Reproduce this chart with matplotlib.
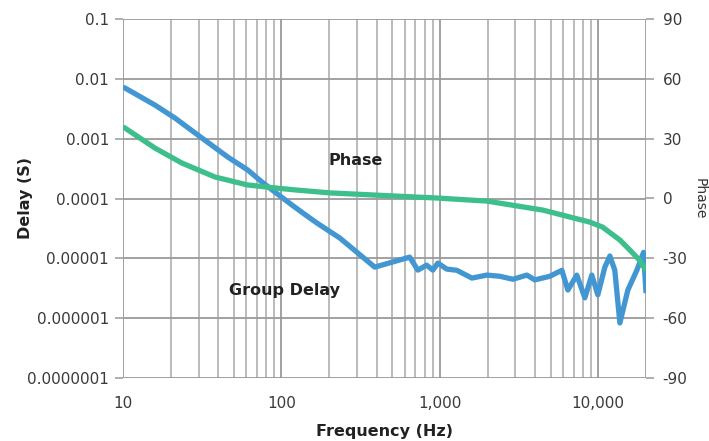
import numpy as np
import matplotlib
matplotlib.use("Agg")
import matplotlib.pyplot as plt
from matplotlib.ticker import FixedLocator, NullFormatter, LogLocator

# Group delay (s) vs frequency (Hz) -- values given as log10(delay)
gd_freq = [10, 10.3, 15.9, 21.3, 31.5, 45.9, 61.4, 75.5, 91, 116.7, 136.8, 167.7, 234, 388,
           645, 726, 825, 903, 971, 1107, 1280, 1592, 1981, 2393, 2891, 3540, 3975, 4945, 5888,
           6425, 7316, 8222, 9100, 9931, 10990, 11830, 12710, 13680, 15360, 17500, 19300, 20000]
gd_log = [-2.14, -2.154, -2.438, -2.656, -2.99, -3.308, -3.525, -3.726, -3.893, -4.11, -4.244,
          -4.411, -4.662, -5.147, -4.98, -5.197, -5.114, -5.197, -5.08, -5.18, -5.20, -5.33, -5.28,
          -5.30, -5.35, -5.28, -5.36, -5.30, -5.20, -5.53, -5.28, -5.66, -5.28, -5.61, -5.15,
          -4.96, -5.20, -6.08, -5.53, -5.20, -4.90, -5.58]
gd_delay = [10 ** v for v in gd_log]

# Phase (deg) vs frequency (Hz)
ph_freq = [10, 10.3, 15.9, 23.5, 38, 61, 91, 122, 203, 500, 953, 1981, 4460, 8800, 10620,
           13680, 15800, 18000, 20000]
ph_deg = [35.8, 35.3, 25.3, 17.8, 10.8, 6.8, 5.3, 4.3, 2.8, 1.3, 0.25, -1.3, -5.8, -11.8, -14.3,
          -20.8, -25.8, -30.5, -36.0]

xticks = [10, 100, 1000, 10000]
xticklabels = ["10", "100", "1,000", "10,000"]
yticks_left = [1e-7, 1e-6, 1e-5, 1e-4, 1e-3, 1e-2, 1e-1]
yticklabels_left = ["0.0000001", "0.000001", "0.00001", "0.0001", "0.001", "0.01", "0.1"]
yticks_right = [-90, -60, -30, 0, 30, 60, 90]

plt.rcParams['font.family'] = ['DejaVu Sans']
plt.rcParams['axes.unicode_minus'] = False

fig = plt.figure(figsize=(7.09, 4.41), dpi=100)
ax = fig.add_axes([123 / 709, 1 - 378 / 441, (646 - 123) / 709, (378 - 19) / 441])
ax2 = ax.twinx()

grid_c = "#a8a8a8"
ax.set_xscale("log")
ax.set_yscale("log")
ax.set_xlim(10, 20000)
ax.set_ylim(1e-7, 0.1)
ax.xaxis.set_major_locator(FixedLocator(xticks))
ax.set_xticklabels(xticklabels)
ax.xaxis.set_minor_locator(LogLocator(base=10, subs=np.arange(2, 10)))
ax.xaxis.set_minor_formatter(NullFormatter())
ax.yaxis.set_major_locator(FixedLocator(yticks_left))
ax.set_yticklabels(yticklabels_left)
ax.yaxis.set_minor_locator(FixedLocator([]))

ax.grid(True, which="major", axis="both", color="#9a9a9a", lw=1.3)
ax.grid(True, which="minor", axis="x", color=grid_c, lw=1.1)
ax.set_axisbelow(True)

for a in (ax, ax2):
    for s in a.spines.values():
        s.set_visible(False)

ax.tick_params(axis="y", which="major", length=6, color=grid_c, width=1.3,
               labelsize=11, labelcolor="#3a3a3a", pad=4)
ax.tick_params(axis="x", which="both", length=0, labelsize=11, labelcolor="#3a3a3a", pad=13)
ax.axvline(20000, color="#9a9a9a", lw=1.3, zorder=0)

ax2.set_ylim(-90, 90)
ax2.yaxis.set_major_locator(FixedLocator(yticks_right))
ax2.tick_params(axis="y", length=6, color=grid_c, width=1.3, labelsize=11,
                labelcolor="#3a3a3a", pad=6)

ax.plot(gd_freq, gd_delay, color="#4297d3", lw=3.8, solid_capstyle="butt", zorder=3)
ax2.plot(ph_freq, ph_deg, color="#3dbf8c", lw=3.8, solid_capstyle="butt", zorder=2)

ax.set_ylabel("Delay (S)", fontsize=11.5, fontweight="bold", color="#222222", va="center")
ax.yaxis.set_label_coords(-0.187, 0.5)
ax.set_xlabel("Frequency (Hz)", fontsize=11.5, fontweight="bold", color="#222222", va="center")
ax.xaxis.set_label_coords(0.5, -0.15)
ax2.set_ylabel("Phase", fontsize=10, color="#333333", rotation=270, va="center")
ax2.yaxis.set_label_coords(1.103, 0.5)

ax.text(0.444, 0.607, "Phase", transform=ax.transAxes, ha="center", va="center",
        fontsize=11.5, fontweight="bold", color="#222222", zorder=5)
ax.text(0.308, 0.245, "Group Delay", transform=ax.transAxes, ha="center", va="center",
        fontsize=11.5, fontweight="bold", color="#222222", zorder=5)

fig.savefig("out.png", dpi=100)
